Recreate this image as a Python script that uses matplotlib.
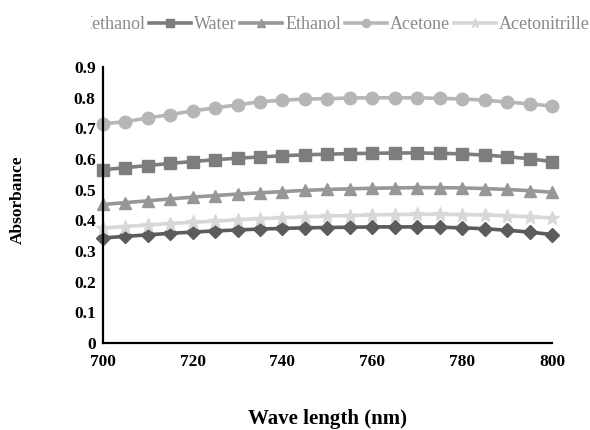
import matplotlib
matplotlib.use("Agg")
import matplotlib.pyplot as plt
from matplotlib.patches import Rectangle
import numpy as np

wavelength = list(range(700, 801, 5))
methanol = [0.343,0.348,0.353,0.358,0.362,0.366,0.369,0.372,0.374,0.376,0.377,0.378,0.379,0.379,0.379,0.378,0.376,0.373,0.368,0.362,0.354]
water = [0.565,0.572,0.579,0.586,0.592,0.598,0.603,0.607,0.611,0.614,0.616,0.618,0.619,0.620,0.620,0.619,0.617,0.613,0.608,0.601,0.592]
ethanol = [0.452,0.458,0.464,0.470,0.476,0.481,0.486,0.490,0.494,0.498,0.501,0.503,0.505,0.506,0.507,0.507,0.506,0.504,0.501,0.497,0.492]
acetone = [0.715,0.722,0.734,0.745,0.757,0.767,0.777,0.787,0.792,0.796,0.797,0.799,0.800,0.800,0.800,0.798,0.796,0.792,0.786,0.780,0.773]
acetonitrile = [0.375,0.380,0.385,0.390,0.394,0.398,0.402,0.406,0.409,0.412,0.414,0.416,0.418,0.419,0.420,0.420,0.419,0.418,0.415,0.412,0.408]

series_names = ["Methanol", "Water", "Ethanol", "Acetone", "Acetonitrille"]
series_vals = [methanol, water, ethanol, acetone, acetonitrile]
colors = ["#5c5c5c", "#7d7d7d", "#979797", "#b6b6b6", "#d8d8d8"]
markers = ["D", "s", "^", "o", "*"]
msizes = [7, 9, 8, 9, 10]

plt.rcParams['font.family'] = ['Liberation Serif', 'DejaVu Serif']

fig = plt.figure(figsize=(5.9, 4.3), dpi=100)
ax = fig.add_axes([0.174, 0.202, 0.762, 0.642])

handles = []
for name, vals, c, m, ms in zip(series_names, series_vals, colors, markers, msizes):
    h, = ax.plot(wavelength, vals, color=c, marker=m, markersize=ms, linewidth=2.6,
                 markeredgecolor=c, label=name, clip_on=False)
    handles.append(h)

ax.set_xlim(700, 800)
ax.set_ylim(0, 0.9)
ax.set_xticks([700, 720, 740, 760, 780, 800])
ax.set_yticks([0, 0.1, 0.2, 0.3, 0.4, 0.5, 0.6, 0.7, 0.8, 0.9])
ax.set_yticklabels(["0", "0.1", "0.2", "0.3", "0.4", "0.5", "0.6", "0.7", "0.8", "0.9"])
ax.tick_params(axis='both', length=0, labelsize=12.5)
for lab in ax.get_xticklabels() + ax.get_yticklabels():
    lab.set_fontweight('bold')
ax.tick_params(axis='y', pad=5)
ax.tick_params(axis='x', pad=8)
for s in ['top', 'right']:
    ax.spines[s].set_visible(False)
for s in ['left', 'bottom']:
    ax.spines[s].set_linewidth(1.6)
    ax.spines[s].set_color('black')

fig.text(0.031, 0.535, "Absorbance", rotation=90, ha='center', va='center',
         fontsize=12.5, fontweight='bold')
fig.text(0.555, 0.025, "Wave length (nm)", ha='center', va='center',
         fontsize=15, fontweight='bold')

leg = fig.legend(handles=handles, loc='center right', bbox_to_anchor=(1.0, 0.942), ncol=5,
                 frameon=False, fontsize=13, handlelength=2.3, handletextpad=0.2,
                 columnspacing=0.2, markerscale=0.65, borderpad=0, borderaxespad=0)
for t in leg.get_texts():
    t.set_color('#8a8a8a')

# the reference legend is cropped at its left end
fig.patches.append(Rectangle((0, 0.88), 0.155, 0.12, transform=fig.transFigure,
                             facecolor='white', edgecolor='none', zorder=10))

fig.savefig("out.png", dpi=100)
